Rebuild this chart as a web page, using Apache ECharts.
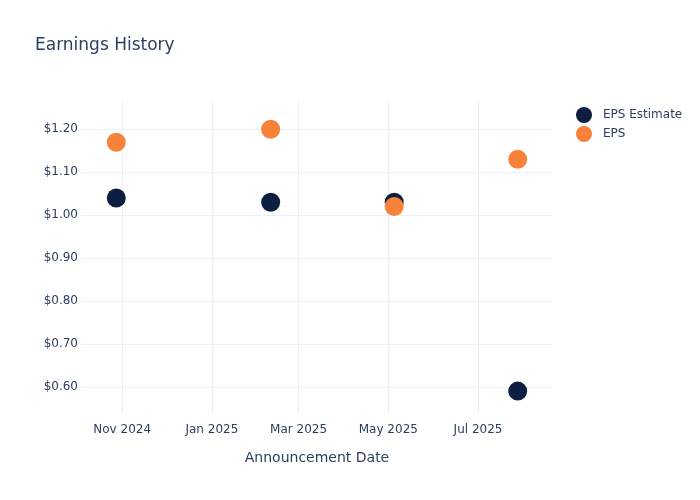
<!DOCTYPE html>
<html>
<head>
<meta charset="utf-8">
<script src="https://cdn.jsdelivr.net/npm/echarts@6/dist/echarts.min.js"></script>
<style>html,body{margin:0;padding:0;background:#fff}#c{width:700px;height:500px}</style>
</head>
<body>
<div id="c"></div>
<script>
const announcementDates = ['2024-10-28', '2025-02-10', '2025-05-05', '2025-07-28'];
const epsEstimate = [1.04, 1.03, 1.03, 0.59];
const epsActual = [1.17, 1.20, 1.02, 1.13];
const xTickDates = ['2024-11-01', '2025-01-01', '2025-03-01', '2025-05-01', '2025-07-01'];
const yTicks = [0.6, 0.7, 0.8, 0.9, 1.0, 1.1, 1.2];
const xRange = ['2024-10-04', '2025-08-21'];
const yRange = [0.539, 1.266];

const MONTHS = ['Jan','Feb','Mar','Apr','May','Jun','Jul','Aug','Sep','Oct','Nov','Dec'];
const ts = s => Date.parse(s + 'T00:00:00Z');
const xTicks = xTickDates.map(ts);
const textColor = '#2a3f5f';
const gridColor = '#ebf0f8';
const font = 'DejaVu Sans';

const chart = echarts.init(document.getElementById('c'), null, {renderer: 'canvas'});
chart.setOption({
  animation: false,
  backgroundColor: '#fff',
  textStyle: {fontFamily: font, color: textColor},
  title: {
    text: 'Earnings History',
    left: 35, top: 37, padding: 0,
    textStyle: {fontFamily: font, fontSize: 17, fontWeight: 'normal', color: textColor}
  },
  legend: {
    orient: 'vertical',
    left: 571, top: 102,
    itemWidth: 16, itemHeight: 16, itemGap: 3,
    icon: 'circle',
    textStyle: {fontFamily: font, fontSize: 12, color: textColor, padding: [0, 0, 0, 6]},
    data: ['EPS Estimate', 'EPS']
  },
  grid: {left: 81, right: 147, top: 101, bottom: 87, containLabel: false},
  xAxis: {
    type: 'value',
    min: ts(xRange[0]), max: ts(xRange[1]),
    name: 'Announcement Date',
    nameLocation: 'middle', nameGap: 38,
    nameTextStyle: {fontFamily: font, fontSize: 14, color: textColor},
    axisLine: {show: false},
    axisTick: {show: false, customValues: xTicks},
    axisLabel: {
      customValues: xTicks, margin: 11,
      fontFamily: font, fontSize: 12, color: textColor,
      formatter: v => { const d = new Date(v); return MONTHS[d.getUTCMonth()] + ' ' + d.getUTCFullYear(); }
    },
    splitLine: {show: true, lineStyle: {color: gridColor, width: 1}}
  },
  yAxis: {
    type: 'value',
    min: yRange[0], max: yRange[1],
    axisLine: {show: false},
    axisTick: {show: false, customValues: yTicks},
    axisLabel: {
      customValues: yTicks, margin: 3,
      fontFamily: font, fontSize: 12, color: textColor,
      formatter: v => '$' + v.toFixed(2)
    },
    splitLine: {show: true, lineStyle: {color: gridColor, width: 1}}
  },
  series: [
    {
      name: 'EPS Estimate', type: 'scatter', symbol: 'circle', symbolSize: 19,
      itemStyle: {color: '#0c1f42', opacity: 1},
      data: announcementDates.map((d, i) => [ts(d), epsEstimate[i]])
    },
    {
      name: 'EPS', type: 'scatter', symbol: 'circle', symbolSize: 19,
      itemStyle: {color: '#f7823a', opacity: 1},
      data: announcementDates.map((d, i) => [ts(d), epsActual[i]])
    }
  ]
});
</script>
</body>
</html>
